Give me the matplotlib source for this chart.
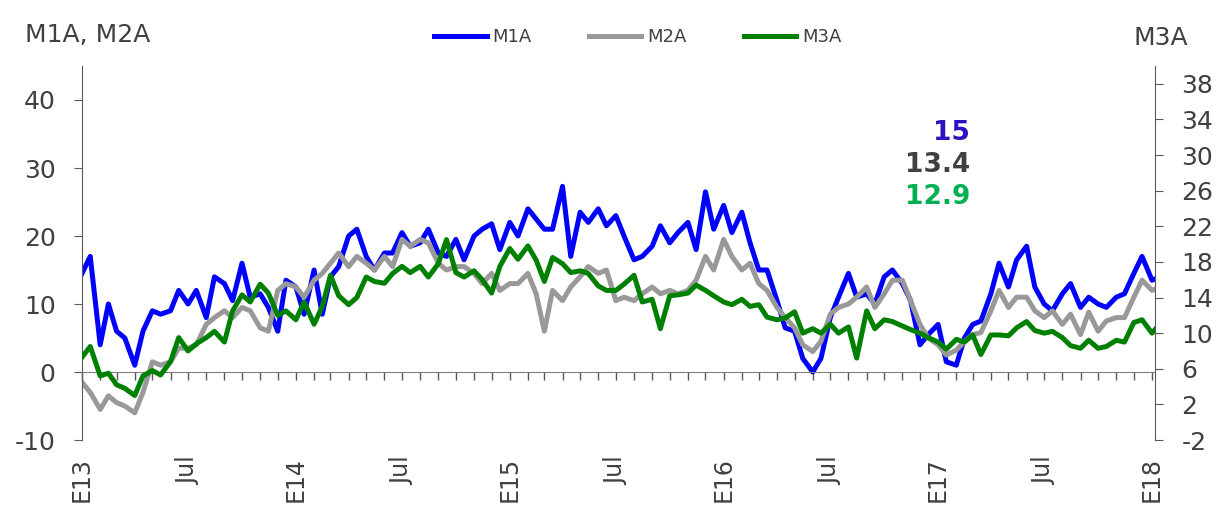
import pandas as pd
import matplotlib.pyplot as plt
import matplotlib.dates as mdates
from matplotlib.ticker import FixedLocator, FixedFormatter

plt.rcParams['font.family'] = ['DejaVu Sans']
plt.rcParams['axes.unicode_minus'] = False

# semi-monthly readings (1st and 15th), Jan 2013 - Jan 2018
dates = pd.date_range('2013-01-01', '2018-01-15', freq='SMS')

m1a = [14.5, 17, 4, 10, 6, 5, 1, 6, 9, 8.5, 9, 12, 10, 12, 8, 14, 13, 10.5, 16, 11, 11.5, 9.5, 6, 13.5,
       12.5, 8.5, 15, 8.5, 14, 15.5, 20, 21, 17, 15, 17.5, 17.5, 20.5, 18.5, 19, 21, 17.5, 17, 19.5, 16.5, 20, 21, 21.8, 18,
       22, 20, 24, 22.5, 21, 21, 27.3, 17, 23.5, 22, 24, 21.5, 23, 20, 16.5, 17, 18.5, 21.5, 19, 20.5, 22, 18, 26.5, 21,
       24.5, 20.5, 23.5, 19, 15, 15, 10.5, 6.5, 6, 2, 0, 2, 8, 11, 14.5, 11, 11.5, 10, 14, 15, 13, 10.5, 4, 5.5,
       7, 1.5, 1, 5, 7, 7.5, 11.5, 16, 12.5, 16.5, 18.5, 12.5, 10, 9, 11.5, 13, 9.5, 11, 10, 9.5, 11, 11.5, 14.5, 17,
       13.5, 14]

m2a = [-1.5, -3, -5.5, -3.5, -4.5, -5, -6, -3, 1.5, 1, 1.5, 3.5, 3.5, 4, 7, 8, 9, 8, 9.5, 9, 6.5, 6, 12, 13,
       12.5, 11, 13.5, 14.5, 16, 17.5, 15.5, 17, 16, 15, 17, 15.5, 19.5, 18.5, 19.5, 19, 16, 15, 15.5, 15.5, 14.5, 13, 14.5, 12,
       13, 13, 14.5, 11.5, 6, 12, 10.5, 12.5, 14, 15.5, 14.5, 15, 10.5, 11, 10.5, 11.5, 12.5, 11.5, 12, 11.5, 12, 13.5, 17, 15,
       19.5, 17, 15, 16, 13, 12, 9.5, 8, 6.5, 4, 3, 4.5, 8.5, 9.5, 10, 11, 12.5, 9.5, 11.5, 13.5, 13.5, 10.5, 7, 5,
       4, 2.5, 3.2, 4.5, 5.5, 5.8, 9, 12, 9.5, 11, 11, 9, 8, 9, 7, 8.5, 5.5, 8.8, 6, 7.5, 8, 8, 11, 13.5,
       12, 12.5]

# right axis
m3a = [7.3, 8.5, 5.2, 5.5, 4.2, 3.8, 3, 5.2, 5.8, 5.3, 6.8, 9.5, 8, 8.8, 9.5, 10.2, 9, 12.5, 14.3, 13.5, 15.5, 14.5, 12, 12.5,
       11.5, 13.5, 11, 13, 16.5, 14.2, 13.2, 14, 16.3, 15.8, 15.6, 16.7, 17.5, 16.8, 17.5, 16.3, 17.8, 20.5, 16.8, 16.3, 17, 16, 14.5, 17.5,
       19.5, 18.3, 19.8, 18.2, 15.8, 18.5, 17.8, 16.8, 17, 16.7, 15.3, 14.8, 14.8, 15.5, 16.5, 13.5, 13.8, 10.5, 14.2, 14.3, 14.5, 15.4, 14.8, 14.2,
       13.5, 13.2, 13.8, 13, 13.2, 11.8, 11.5, 11.7, 12.4, 10, 10.5, 10, 11, 10, 10.7, 7.2, 12.5, 10.5, 11.5, 11.3, 10.8, 10.4, 10, 9.5,
       9, 8.2, 9.3, 9, 9.8, 7.6, 9.8, 9.8, 9.7, 10.6, 11.3, 10.3, 10, 10.2, 9.5, 8.6, 8.3, 9.2, 8.3, 8.5, 9.2, 9, 11.2, 11.5,
       10, 11.1]

tick_dates = pd.date_range('2013-01-01', '2018-01-01', freq='6MS')
tick_labels = ['E13', 'Jul', 'E14', 'Jul', 'E15', 'Jul', 'E16', 'Jul', 'E17', 'Jul', 'E18']

last_labels = ['15', '13.4', '12.9']
last_colors = ['#2b12c4', '#404040', '#00b050']

txt = '#404040'
axis_col = '#595959'

fig = plt.figure(figsize=(12.17, 5.12), dpi=100)
ax = fig.add_axes([0.0674, 0.1406, 0.8816, 0.7305])
ax2 = ax.twinx()

l1, = ax.plot(dates, m1a, color='#0000ff', lw=3.6, solid_joinstyle='round', label='M1A')
l2, = ax.plot(dates, m2a, color='#999999', lw=3.6, solid_joinstyle='round', label='M2A')
l3, = ax2.plot(dates, m3a, color='#008000', lw=3.6, solid_joinstyle='round', label='M3A')

ax.set_xlim(pd.Timestamp('2013-01-01'), pd.Timestamp('2018-01-06'))
ax.set_ylim(-10, 45)
ax2.set_ylim(-2, 40)
ax.set_yticks(range(-10, 41, 10))
ax2.set_yticks(range(-2, 39, 4))

# x axis sits on the zero line, labels at the bottom
ax.spines['bottom'].set_position(('data', 0))
for s in ['top', 'right']:
    ax.spines[s].set_visible(False)
for s in ['top', 'left', 'bottom']:
    ax2.spines[s].set_visible(False)
ax.spines['left'].set_color(axis_col)
ax.spines['bottom'].set_color('#808080')
ax2.spines['right'].set_color(axis_col)

ax.xaxis.set_major_locator(FixedLocator(mdates.date2num(tick_dates)))
ax.xaxis.set_major_formatter(FixedFormatter(tick_labels))
ax.xaxis.set_minor_locator(mdates.MonthLocator())
ax.tick_params(axis='x', which='both', direction='out', length=6, width=1, colors=axis_col)
ax.tick_params(axis='x', which='major', labelrotation=90, labelsize=17, labelcolor=txt, pad=55)
for lab in ax.get_xticklabels():
    lab.set_verticalalignment('top')

ax.tick_params(axis='y', direction='out', length=6, colors=axis_col, labelsize=18, labelcolor=txt, pad=13)
ax2.tick_params(axis='y', direction='out', length=6, colors=axis_col, labelsize=18, labelcolor=txt, pad=13)

fig.legend(handles=[l1, l2, l3], loc='center', bbox_to_anchor=(0.524, 0.928), ncol=3, frameon=False,
           fontsize=13, handlelength=2.9, handletextpad=0.3, columnspacing=3.2, labelcolor=txt)

fig.text(0.0205, 0.932, 'M1A, M2A', fontsize=18, color=txt, va='center', ha='left')
fig.text(0.931, 0.926, 'M3A', fontsize=18, color=txt, va='center', ha='left')

for lab, col, yy in zip(last_labels, last_colors, [0.740, 0.678, 0.615]):
    fig.text(0.797, yy, lab, fontsize=19, fontweight='bold', color=col, ha='right', va='center')

fig.savefig('out.png', dpi=100)
